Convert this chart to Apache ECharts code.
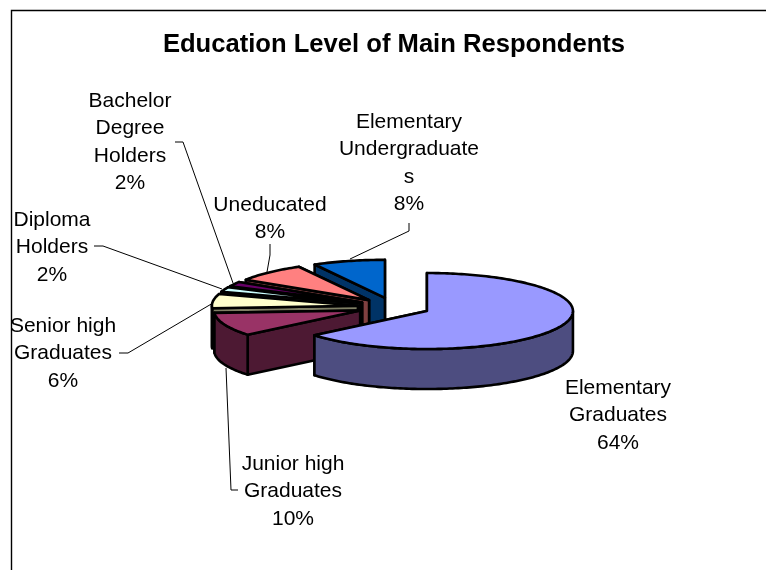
<!DOCTYPE html>
<html><head><meta charset="utf-8">
<style>html,body{margin:0;padding:0;background:#fff}#c{width:766px;height:570px}</style>
<script src="https://cdn.jsdelivr.net/npm/echarts@6/dist/echarts.min.js"></script>
</head><body><div id="c"></div>
<script>
const titleText = 'Education Level of Main Respondents';
const categories = ['Elementary Graduates','Junior high Graduates','Senior high Graduates','Diploma Holders','Bachelor Degree Holders','Uneducated','Elementary Undergraduates'];
const values = [64,10,6,2,2,8,8];
const labelLines = [
  ['Elementary','Graduates','64%'],
  ['Junior high','Graduates','10%'],
  ['Senior high','Graduates','6%'],
  ['Diploma','Holders','2%'],
  ['Bachelor','Degree','Holders','2%'],
  ['Uneducated','8%'],
  ['Elementary','Undergraduate','s','8%']
];
const topColors = ['#9999FF','#993366','#FFFFCC','#CCFFFF','#660066','#FF8080','#0066CC'];
const sideColors = ['#4D4D80','#4D1933','#808066','#668080','#330033','#804040','#003366'];
// layout
const drawOrder = [6,5,4,3,2,1,0];
const labelAnchor = [[618,388],[293,464],[63,326],[52,220],[130,101],[270,205],[409,122]];
const leaders = [
  null,
  [[238,490],[231,490],[226,368]],
  [[119,353],[128,353],[213,303]],
  [[94,246],[103,246],[222,289]],
  [[175,142],[183,142],[233,283]],
  [[270,244],[270,255],[267,272]],
  [[409,223],[409,231],[350,259]]
];
const geo = {cx:394, cy:307, rx:146, ry:38, depth:40, explode:36.4, lineH:27.5, font:21};

const total = values.reduce((a,b)=>a+b,0);
const starts = []; let acc = 0;
values.forEach(v=>{starts.push(acc/total*Math.PI*2); acc+=v;});

function renderItem(params, api){
  const i = params.dataIndex;
  const a0 = starts[i], a1 = a0 + api.value(1)/total*Math.PI*2, mid=(a0+a1)/2;
  const ax = geo.cx + geo.explode*Math.sin(mid);
  const ay = geo.cy - geo.explode*geo.ry/geo.rx*Math.cos(mid);
  const pt = (t,d)=>[ax+geo.rx*Math.sin(t), ay-geo.ry*Math.cos(t)+(d||0)];
  const arc = (s,e,d)=>{const n=Math.max(4,Math.ceil((e-s)/0.02)),r=[];for(let k=0;k<=n;k++)r.push(pt(s+(e-s)*k/n,d));return r;};
  const order = drawOrder.indexOf(i);
  const base = order*10+1;
  const style = (fill)=>({fill, stroke:'#000', lineWidth:2.6, lineJoin:'round'});
  const children = [];
  const poly = (points,fill,z)=>children.push({type:'polygon',shape:{points},style:style(fill),z2:base+z,silent:true});
  const D=geo.depth;
  // cut faces: the one lying further back is painted first
  const cuts = pt(a0)[1] < pt(a1)[1] ? [a0,a1] : [a1,a0];
  cuts.forEach((t,k)=>{
    poly([[ax,ay],pt(t),pt(t,D),[ax,ay+D]],sideColors[i],k);
  });
  // rim: visible from 90deg to 270deg clockwise from top
  const rs=Math.max(a0,Math.PI/2), re=Math.min(a1,Math.PI*1.5);
  if(re>rs){
    poly(arc(rs,re,0).concat(arc(rs,re,D).reverse()),sideColors[i],2);
  }
  poly([[ax,ay]].concat(arc(a0,a1,0)),topColors[i],3);
  // label and leader
  if(leaders[i]) children.push({type:'polyline',shape:{points:leaders[i]},style:{fill:null,stroke:'#000',lineWidth:1},z2:500,silent:true});
  labelLines[i].forEach((line,k)=>{
    children.push({type:'text',z2:600,silent:true,style:{
      text:line,x:labelAnchor[i][0],y:labelAnchor[i][1]+k*geo.lineH,
      align:'center',verticalAlign:'middle',fill:'#000',
      font:geo.font+'px "Liberation Sans", Arial, sans-serif'}});
  });
  return {type:'group',children};
}

const chart = echarts.init(document.getElementById('c'),null,{renderer:'canvas'});
chart.setOption({
  animation:false,
  backgroundColor:'#fff',
  title:{text:titleText,left:389,top:27,textAlign:'center',textStyle:{fontFamily:'"Liberation Sans", Arial, sans-serif',fontWeight:'bold',fontSize:25.6,color:'#000'}},
  graphic:[
    {type:'polyline',shape:{points:[[11.5,570],[11.5,10.5],[766,10.5]]},style:{fill:null,stroke:'#000',lineWidth:1.4},silent:true}
  ],
  series:[{type:'custom',coordinateSystem:'none',renderItem,silent:true,
    data:categories.map((c,i)=>({name:c,value:[i,values[i]]}))}]
});
</script></body></html>
